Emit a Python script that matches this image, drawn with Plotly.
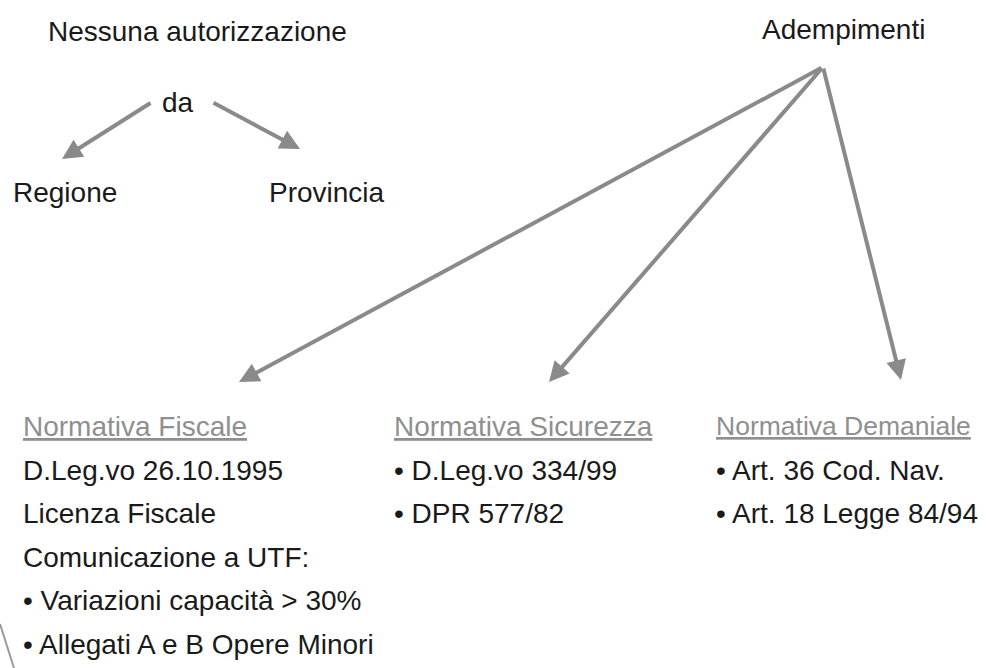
import plotly.graph_objects as go

# ---- content (data) ----
top_left_title = "Nessuna autorizzazione"
connector_word = "da"
authorities = ["Regione", "Provincia"]
top_right_title = "Adempimenti"
column_headers = ["Normativa Fiscale", "Normativa Sicurezza", "Normativa Demaniale"]
column_items = [
    ["D.Leg.vo 26.10.1995", "Licenza Fiscale", "Comunicazione a UTF:",
     "• Variazioni capacità > 30%", "• Allegati A e B Opere Minori"],
    ["• D.Leg.vo 334/99", "• DPR 577/82"],
    ["• Art. 36 Cod. Nav.", "• Art. 18 Legge 84/94"],
]

# ---- layout / style ----
W, H = 986, 668
FONT = "Liberation Sans, Arial, sans-serif"
FS = 28
header_fs = [28, 28, 26.5]
TXT = "#1a1a1a"
GRAY = "#8f8f8f"
ARROW = "#8a8a8a"

col_x = [22, 393, 715]
header_y = 426
line_y0 = 470
line_step = 43.5

apex = (823, 67)
tips = [(239, 382), (549, 382), (901, 380)]

fig = go.Figure()
fig.add_trace(go.Scatter(x=[0, W], y=[0, H], mode="markers",
                         marker=dict(opacity=0), hoverinfo="skip", showlegend=False))

ann = []
def txt(x, y, s, color=TXT, xanchor="left", size=FS):
    ann.append(dict(x=x, y=y, xref="x", yref="y", text=s, showarrow=False,
                    xanchor=xanchor, yanchor="middle", borderpad=0,
                    font=dict(family=FONT, size=size, color=color)))

txt(197, 31, top_left_title, xanchor="center")
txt(178, 102, connector_word, xanchor="center")
txt(12, 192, authorities[0])
txt(268, 192, authorities[1])
txt(843, 29, top_right_title, xanchor="center")

for i, (hdr, items) in enumerate(zip(column_headers, column_items)):
    txt(col_x[i], header_y, "<u>" + hdr + "</u>", color=GRAY, size=header_fs[i])
    for j, it in enumerate(items):
        txt(col_x[i], line_y0 + j * line_step, it)

def arrow(tail, tip):
    ann.append(dict(x=tip[0], y=tip[1], ax=tail[0], ay=tail[1],
                    xref="x", yref="y", axref="x", ayref="y",
                    text="", showarrow=True, arrowhead=2, arrowsize=1.0,
                    arrowwidth=4, arrowcolor=ARROW))

arrow((152, 102), (62, 159))
arrow((212, 102), (300, 149))
for t in tips:
    arrow(apex, t)

fig.update_layout(
    width=W, height=H, margin=dict(l=0, r=0, t=0, b=0),
    paper_bgcolor="white", plot_bgcolor="white",
    xaxis=dict(range=[0, W], visible=False, fixedrange=True),
    yaxis=dict(range=[H, 0], visible=False, fixedrange=True),
    annotations=ann,
    shapes=[dict(type="path", path="M 0,624 Q 7,646 14,668", xref="x", yref="y",
                 line=dict(color="#9a9a9a", width=2))],
)
fig.write_html("out.html", config={"displayModeBar": False},
               post_script="document.body.style.margin='0';"
                           "document.body.style.overflow='hidden';")
